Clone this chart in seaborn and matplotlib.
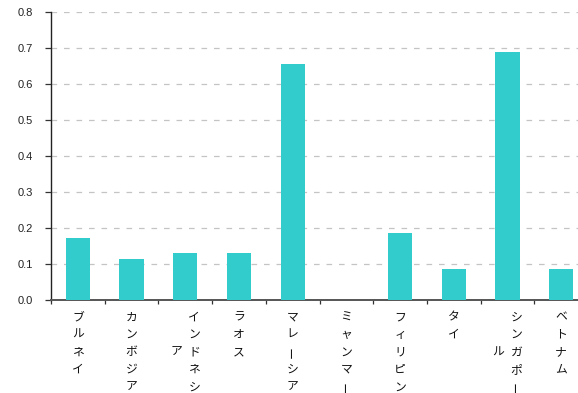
import matplotlib
matplotlib.use("Agg")
import matplotlib.pyplot as plt
import seaborn as sns
import pandas as pd

# ASEAN countries and their values
countries = ["ブルネイ", "カンボジア", "インドネシア", "ラオス", "マレーシア",
             "ミャンマー", "フィリピン", "タイ", "シンガポール", "ベトナム"]
values = [0.172, 0.114, 0.130, 0.130, 0.656, 0.0, 0.186, 0.086, 0.689, 0.086]
y_ticks = [0.0, 0.1, 0.2, 0.3, 0.4, 0.5, 0.6, 0.7, 0.8]

sns.set_theme(style="white")
plt.rcParams["font.family"] = ["Liberation Sans", "DejaVu Sans"]

df = pd.DataFrame({"country": countries, "value": values})

fig = plt.figure(figsize=(5.78, 3.93), dpi=100)
ax = fig.add_axes([51 / 578, 93 / 393, 537 / 578, 288 / 393])

sns.barplot(data=df, x="country", y="value", color="#33CCCC", width=0.45,
            saturation=1, linewidth=0, edgecolor="none", ax=ax, zorder=3)

ax.set_ylim(0, 0.8)
ax.set_xlim(-0.5, len(countries) - 0.5)
ax.set_yticks(y_ticks)
ax.set_yticklabels([f"{t:.1f}" for t in y_ticks], fontsize=8, color="#222222")
ax.yaxis.grid(True, linestyle=(0, (4.5, 5.5)), color="#c4c4c4", linewidth=0.9, zorder=0)
ax.xaxis.grid(False)
ax.set_axisbelow(True)

# tick marks sit on the category boundaries
ax.set_xticks([i - 0.5 for i in range(len(countries) + 1)])
ax.set_xticklabels([])
ax.tick_params(axis="x", direction="out", length=3, width=0.9, color="#333333", bottom=True)
ax.tick_params(axis="y", direction="out", length=4, width=0.9, color="#333333", left=True, pad=9)
ax.set_xlabel("")
ax.set_ylabel("")

for side in ["top", "right"]:
    ax.spines[side].set_visible(False)
ax.spines["left"].set_color("#222222")
ax.spines["left"].set_linewidth(1.0)
ax.spines["bottom"].set_color("#555555")
ax.spines["bottom"].set_linewidth(1.4)

# vertical category labels, written top to bottom, wrapping after five characters
row_step = 12.6
first_row = -12.2
col_gap = 13.0
per_col = 5
jp = ["Noto Sans CJK JP", "DejaVu Sans"]


def put_char(ch, x, dx, dy):
    rot = 90 if ch == "ー" else 0
    ax.annotate(ch, xy=(x, 0), xycoords=("data", "axes fraction"),
                xytext=(dx, dy), textcoords="offset points",
                ha="center", va="center", rotation=rot,
                fontsize=8.5, family=jp, color="#111111", annotation_clip=False)


for i, name in enumerate(countries):
    main = name[:per_col]
    rest = name[per_col:]
    dx_main = col_gap / 2 if rest else 0
    for r, ch in enumerate(main):
        put_char(ch, i, dx_main, first_row - r * row_step)
    for r, ch in enumerate(rest):
        put_char(ch, i, dx_main - col_gap, first_row - (r + 2) * row_step)

fig.savefig("out.png", dpi=100)
